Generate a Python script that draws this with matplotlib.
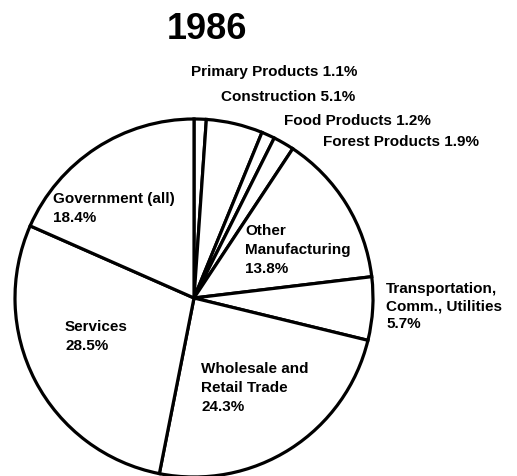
import matplotlib
matplotlib.use("Agg")
import matplotlib.pyplot as plt

# employment shares by sector, 1986 (clockwise from 12 o'clock)
sectors = ["Primary Products", "Construction", "Food Products", "Forest Products",
           "Other\nManufacturing", "Transportation,\nComm., Utilities",
           "Wholesale and\nRetail Trade", "Services", "Government (all)"]
shares = [1.1, 5.1, 1.2, 1.9, 13.8, 5.7, 24.3, 28.5, 18.4]
title = "1986"

# label layout (pixel coords, top-left of text block) and joiner between name and value
label_pos = [(191, 65), (221, 90), (284, 114), (323, 135), (245, 224),
             (386, 282), (201, 362), (65, 320), (53, 192)]
joiner = [" ", " ", " ", " ", "\n", "\n", "\n", "\n", "\n"]
spacing = [1.2, 1.2, 1.2, 1.2, 1.45, 1.3, 1.45, 1.45, 1.45]

W, H = 517, 477
fig = plt.figure(figsize=(W / 100, H / 100), dpi=100)
ax = fig.add_axes([0, 0, 1, 1])

ax.pie(shares, startangle=90, counterclock=False, center=(194, H - 299), radius=179,
       colors=["white"] * len(shares),
       wedgeprops=dict(edgecolor="black", linewidth=2.3))
ax.set_xlim(0, W)
ax.set_ylim(0, H)
ax.set_aspect("equal")
ax.axis("off")

fam = ["Liberation Sans", "DejaVu Sans"]
for name, val, (px, py), j, ls in zip(sectors, shares, label_pos, joiner, spacing):
    ax.text(px, H - py, f"{name}{j}{val}%", ha="left", va="top", fontsize=11,
            fontweight="bold", linespacing=ls, family=fam)

ax.text(207, H - 12, title, ha="center", va="top", fontsize=26, fontweight="bold",
        family=fam)

fig.savefig("out.png", dpi=100)
